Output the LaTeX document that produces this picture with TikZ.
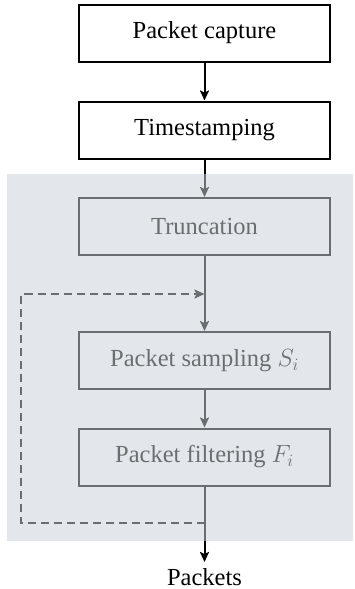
\documentclass[tikz,border=0pt]{standalone}
\usepackage{fontspec}
\setmainfont{Liberation Serif}
\usetikzlibrary{arrows.meta}
\definecolor{veil}{RGB}{202,208,215}
\begin{document}
\begin{tikzpicture}[x=1pt,y=1pt,
  blk/.style={draw, line width=2pt, minimum width=251pt, minimum height=57pt, inner sep=0pt, font=\fontsize{24.5}{28}\selectfont},
  arr/.style={line width=2pt, -{Stealth[length=10pt,width=9pt,inset=2pt]}},
  loopline/.style={arr, dash pattern=on 8pt off 5pt},
  lbl/.style={font=\fontsize{24.5}{28}\selectfont, inner sep=0pt, outer ysep=6pt}
]
\useasboundingbox (0,0) rectangle (355,-589);
\node[blk] (cap) at (204.5,-33) {Packet capture};
\node[blk] (ts) at (204.5,-130) {Timestamping};
\node[blk] (tr) at (204.5,-226.5) {Truncation};
\node[blk] (sa) at (204.5,-360.5) {Packet sampling $S_i$};
\node[blk] (fi) at (204.5,-457) {Packet filtering $F_i$};
\node[lbl, anchor=north] (out) at (204.5,-562) {Packets};
\draw[arr] (cap) -- (ts);
\draw[arr] (ts) -- (tr);
\draw[arr] (tr) -- (sa);
\draw[arr] (sa) -- (fi);
\draw[arr] (fi) -- (out);
\coordinate (dtop) at (21,-294);
\coordinate (dbot) at (21,-523);
\draw[loopline] (fi.south |- dbot) -- (dbot) -- (dtop) -- (tr.south |- dtop);
\fill[veil, fill opacity=0.53] (7,-174) rectangle (353,-541);
\end{tikzpicture}
\end{document}
